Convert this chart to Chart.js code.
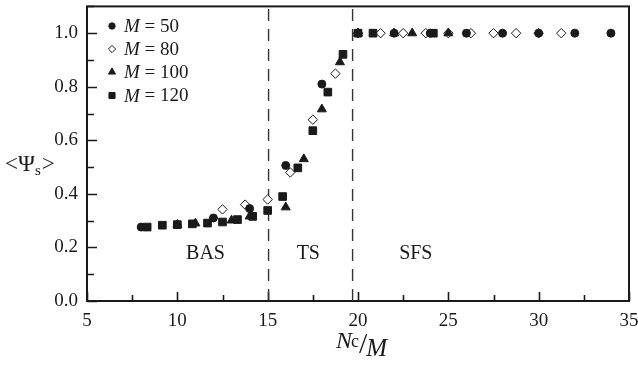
<!DOCTYPE html>
<html lang="en">
<head>
  <meta charset="UTF-8" />
  <title>Psi_s vs Nc/M</title>
  <script src="https://cdn.jsdelivr.net/npm/chart.js"></script>
  <style>
    html, body { margin: 0; padding: 0; background: #fff; }
    #wrap { width: 638px; height: 365px; }
  </style>
</head>
<body>
  <div id="wrap"><canvas id="psiChart" width="638" height="365"></canvas></div>

  <script>
    // series: Nc/M vs <Psi_s>
    const seriesNames = ['50', '80', '100', '120'];
    const x50  = [8, 10, 12, 14, 16, 18, 20, 22, 24, 26, 28, 30, 32, 34];
    const y50  = [0.276, 0.285, 0.31, 0.345, 0.506, 0.81, 1.0, 1.0, 1.0, 1.0, 1.0, 1.0, 1.0, 1.0];
    const x80  = [12.5, 13.75, 15, 16.25, 17.5, 18.75, 20, 21.25, 22.5, 23.75, 25, 26.25, 27.5, 28.75, 30, 31.25];
    const y80  = [0.342, 0.36, 0.379, 0.48, 0.677, 0.849, 1.0, 1.0, 1.0, 1.0, 1.0, 1.0, 1.0, 1.0, 1.0, 1.0];
    const x100 = [10, 11, 13, 14, 16, 17, 18, 19, 20, 22, 23, 25];
    const y100 = [0.285, 0.29, 0.301, 0.316, 0.35, 0.53, 0.716, 0.892, 1.0, 1.0, 1.0, 1.0];
    const x120 = [8.33, 9.17, 10, 10.83, 11.67, 12.5, 13.33, 14.17, 15, 15.83, 16.67, 17.5, 18.33, 19.17, 20, 20.83, 24.17];
    const y120 = [0.276, 0.283, 0.285, 0.288, 0.291, 0.295, 0.304, 0.316, 0.338, 0.39, 0.497, 0.636, 0.78, 0.921, 1.0, 1.0, 1.0];

    // regime boundaries and names
    const boundaries = [15.05, 19.7];
    const regionNames = ['BAS', 'TS', 'SFS'];
    const regionX = [11.56, 17.25, 23.2];
    const regionY = 0.178;

    const xTicks = [5, 10, 15, 20, 25, 30, 35];
    const yTicks = [0.0, 0.2, 0.4, 0.6, 0.8, 1.0];

    const serif = "'Liberation Serif', 'DejaVu Serif', serif";
    const ink = '#1a1a1a';

    const pts = (xs, ys) => xs.map((x, i) => ({ x: x, y: ys[i] }));

    const markers = [
      { style: 'circle',   r: 4.0, lr: 3.2, fill: ink },
      { style: 'rectRot',  r: 4.7, lr: 3.6, fill: '#fff' },
      { style: 'triangle', r: 5.2, lr: 4.1, fill: ink },
      { style: 'rect',     r: 5.4, lr: 4.3, fill: ink }
    ];
    const seriesData = [pts(x50, y50), pts(x80, y80), pts(x100, y100), pts(x120, y120)];

    const datasets = seriesData.map((d, i) => ({
      label: 'M = ' + seriesNames[i],
      data: d,
      pointStyle: markers[i].style,
      pointRadius: markers[i].r,
      pointBackgroundColor: markers[i].fill,
      pointBorderColor: ink,
      pointBorderWidth: 1,
      showLine: false,
      order: markers[i].style === 'rectRot' ? 2 : 1
    }));

    boundaries.forEach(b => {
      datasets.push({
        type: 'line',
        label: 'boundary',
        data: [{ x: b, y: 0 }, { x: b, y: 1.1 }],
        borderColor: '#333',
        borderWidth: 1.4,
        borderDash: [12, 8],
        pointRadius: 0,
        order: 3
      });
    });

    function drawMarker(ctx, m, x, y) {
      ctx.save();
      ctx.fillStyle = m.fill;
      ctx.strokeStyle = ink;
      ctx.lineWidth = 1;
      Chart.helpers.drawPoint(ctx, { pointStyle: m.style, radius: m.lr, rotation: 0, borderWidth: 1 }, x, y);
      ctx.restore();
    }

    const frameAndText = {
      id: 'frameAndText',
      beforeDatasetsDraw(chart) {
        const { ctx, chartArea: a, scales: { x, y } } = chart;
        ctx.save();
        ctx.strokeStyle = ink;
        ctx.lineWidth = 2;
        ctx.strokeRect(a.left, a.top, a.right - a.left, a.bottom - a.top);
        ctx.lineWidth = 1.6;
        ctx.beginPath();
        for (let v = 5; v <= 35.01; v += 2.5) {
          const px = Math.round(x.getPixelForValue(v)) + 0.5;
          const len = (Math.abs(v % 5) < 0.01) ? 9 : 6;
          ctx.moveTo(px, a.bottom);
          ctx.lineTo(px, a.bottom - len);
        }
        for (let k = 0; k <= 11; k++) {
          const py = Math.round(y.getPixelForValue(k / 10)) + 0.5;
          const len = (k % 2 === 0) ? 10 : 7;
          ctx.moveTo(a.left, py);
          ctx.lineTo(a.left + len, py);
        }
        ctx.stroke();
        ctx.restore();
      },
      afterDraw(chart) {
        const { ctx, chartArea: a, scales: { x, y } } = chart;
        ctx.save();
        ctx.fillStyle = ink;
        ctx.textBaseline = 'middle';
        ctx.textAlign = 'center';

        // regime names
        ctx.font = '20px ' + serif;
        regionNames.forEach((n, i) => {
          ctx.fillText(n, x.getPixelForValue(regionX[i]), y.getPixelForValue(regionY));
        });

        // legend
        ctx.textAlign = 'left';
        const rows = [26, 49, 72, 95.5];
        datasets.slice(0, 4).forEach((ds, i) => {
          drawMarker(ctx, markers[i], 112, rows[i]);
          ctx.fillStyle = ink;
          ctx.font = 'italic 19px ' + serif;
          ctx.fillText('M', 124, rows[i] + 1);
          const w = ctx.measureText('M').width;
          ctx.font = '19px ' + serif;
          ctx.fillText(' = ' + seriesNames[i], 124 + w, rows[i] + 1);
        });

        // y title  <Psi_s>
        ctx.textBaseline = 'alphabetic';
        let tx = 5;
        const ty = 171;
        ctx.font = '23px ' + serif;
        ctx.fillText('<\u03A8', tx, ty);
        tx += ctx.measureText('<\u03A8').width;
        ctx.font = '15px ' + serif;
        ctx.fillText('s', tx, ty + 4);
        tx += ctx.measureText('s').width + 1;
        ctx.font = '23px ' + serif;
        ctx.fillText('>', tx, ty);

        // x title  Nc/M
        tx = 336;
        ctx.font = 'italic 24px ' + serif;
        ctx.fillText('N', tx, 348);
        tx += ctx.measureText('N').width - 1;
        ctx.font = '18px ' + serif;
        ctx.fillText('c', tx, 347);
        tx += ctx.measureText('c').width;
        ctx.font = '30px ' + serif;
        ctx.fillText('/', tx, 353);
        tx += ctx.measureText('/').width - 1;
        ctx.font = 'italic 25px ' + serif;
        ctx.fillText('M', tx, 356);
        ctx.restore();
      }
    };

    const ctx = document.getElementById('psiChart').getContext('2d');
    const psiChart = new Chart(ctx, {
      type: 'scatter',
      data: { datasets: datasets },
      options: {
        responsive: false,
        animation: false,
        layout: { padding: { left: 0, right: 9, top: 5, bottom: 0 } },
        plugins: {
          legend: { display: false },
          tooltip: { enabled: false }
        },
        scales: {
          x: {
            type: 'linear',
            min: 5,
            max: 35,
            afterFit: s => { s.height = 64; s.paddingLeft = 0; s.paddingRight = 0; },
            afterBuildTicks: s => { s.ticks = xTicks.map(v => ({ value: v })); },
            grid: { display: false, drawTicks: false },
            border: { display: false },
            ticks: {
              padding: 9,
              color: ink,
              font: { family: serif, size: 19 },
              maxRotation: 0
            }
          },
          y: {
            min: 0,
            max: 1.1,
            afterFit: s => { s.width = 87; s.paddingTop = 0; s.paddingBottom = 0; },
            afterBuildTicks: s => { s.ticks = yTicks.map(v => ({ value: v })); },
            grid: { display: false, drawTicks: false },
            border: { display: false },
            ticks: {
              padding: 9,
              color: ink,
              font: { family: serif, size: 19 },
              callback: v => Number(v).toFixed(1)
            }
          }
        }
      },
      plugins: [frameAndText]
    });
  </script>
</body>
</html>
